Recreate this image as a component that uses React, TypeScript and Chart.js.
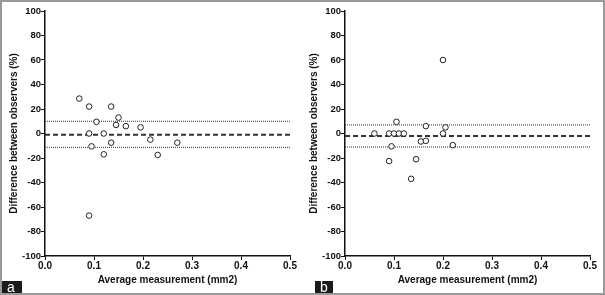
import React, { useEffect, useRef } from "react";
import { Chart, registerables } from "chart.js";
Chart.register(...registerables);

// ---- data ----
const xTickValues = [0, 0.1, 0.2, 0.3, 0.4, 0.5];
const yTickValues = [-100, -80, -60, -40, -20, 0, 20, 40, 60, 80, 100];

const xTitle = "Average measurement (mm2)";
const yTitle = "Difference between observers (%)";

// Panel a
const aAvg = [0.07, 0.09, 0.135, 0.15, 0.105, 0.145, 0.165, 0.195, 0.09, 0.12, 0.215, 0.135, 0.27, 0.095, 0.12, 0.23, 0.09];
const aDiff = [28.5, 22, 22, 13, 9.5, 7, 6, 5, 0, 0, -5, -7.5, -7.5, -10.5, -17, -17.5, -67];
const aBias = -1;
const aUpper = 10;
const aLower = -11.3;

// Panel b
const bAvg = [0.2, 0.105, 0.165, 0.205, 0.06, 0.09, 0.1, 0.11, 0.12, 0.2, 0.155, 0.165, 0.095, 0.22, 0.09, 0.145, 0.135];
const bDiff = [60, 9.5, 6, 5, 0, 0, 0, 0, 0, 0, -6.5, -6, -10.5, -9.5, -22.5, -21, -37];
const bBias = -2;
const bUpper = 7;
const bLower = -11;

const FONT = "'Liberation Sans', Arial, Helvetica, sans-serif";
const INK = "#111";

function hLine(y: number, dash: number[], width: number) {
  return {
    type: "line" as const,
    data: [
      { x: xTickValues[0], y },
      { x: xTickValues[xTickValues.length - 1], y },
    ],
    borderColor: "#333",
    borderWidth: width,
    borderDash: dash,
    pointRadius: 0,
    fill: false,
    order: 2,
  };
}

function makeChart(
  canvas: HTMLCanvasElement,
  xs: number[],
  ys: number[],
  bias: number,
  upper: number,
  lower: number,
  rightPad: number
) {
  const pts = xs.map((x, i) => ({ x, y: ys[i] }));
  return new Chart(canvas, {
    type: "scatter",
    data: {
      datasets: [
        hLine(upper, [1, 1], 1),
        hLine(lower, [1, 1], 1),
        hLine(bias, [5, 3], 2),
        {
          type: "scatter",
          data: pts,
          pointRadius: 2.8,
          pointBorderWidth: 1,
          pointBorderColor: "#222",
          pointBackgroundColor: "#fff",
          borderColor: "#222",
          backgroundColor: "#fff",
          order: 1,
        } as any,
      ],
    },
    options: {
      animation: false,
      responsive: false,
      maintainAspectRatio: false,
      layout: { padding: { top: 11, right: rightPad, bottom: 0, left: 0 } },
      plugins: { legend: { display: false }, tooltip: { enabled: false } },
      scales: {
        x: {
          type: "linear",
          min: xTickValues[0],
          max: xTickValues[xTickValues.length - 1],
          afterFit: (s: any) => {
            s.height = 39;
          },
          afterBuildTicks: (s: any) => {
            s.ticks = xTickValues.map((v) => ({ value: v }));
          },
          ticks: {
            callback: (v: any) => Number(v).toFixed(1),
            font: { family: FONT, size: 10, weight: "bold" },
            color: INK,
            padding: 0,
            maxRotation: 0,
            autoSkip: false,
          },
          grid: {
            display: true,
            drawOnChartArea: false,
            drawTicks: true,
            tickLength: 4,
            color: INK,
            lineWidth: 1,
          },
          border: { display: true, color: INK, width: 1.5 },
          title: {
            display: true,
            text: xTitle,
            font: { family: FONT, size: 10, weight: "bold" },
            color: INK,
            padding: { top: 0, bottom: 8.5 },
          },
        },
        y: {
          type: "linear",
          min: yTickValues[0],
          max: yTickValues[yTickValues.length - 1],
          afterFit: (s: any) => {
            s.width = 45;
          },
          afterBuildTicks: (s: any) => {
            s.ticks = yTickValues.map((v) => ({ value: v }));
          },
          ticks: {
            font: { family: FONT, size: 9.5, weight: "bold" },
            color: INK,
            padding: 0,
            autoSkip: false,
          },
          grid: {
            display: true,
            drawOnChartArea: false,
            drawTicks: true,
            tickLength: 4,
            color: INK,
            lineWidth: 1,
          },
          border: { display: true, color: INK, width: 1.5 },
          title: {
            display: true,
            text: yTitle,
            font: { family: FONT, size: 10, weight: "bold" },
            color: INK,
            padding: { top: 8, bottom: 0 },
          },
        },
      },
    } as any,
  });
}

export default function App() {
  const refA = useRef<HTMLCanvasElement>(null);
  const refB = useRef<HTMLCanvasElement>(null);

  useEffect(() => {
    document.body.style.margin = "0";
    const ca = makeChart(refA.current!, aAvg, aDiff, aBias, aUpper, aLower, 10);
    const cb = makeChart(refB.current!, bAvg, bDiff, bBias, bUpper, bLower, 15);
    return () => {
      ca.destroy();
      cb.destroy();
    };
  }, []);

  const box: React.CSSProperties = {
    position: "absolute",
    top: 281,
    height: 14,
    background: "#1a1a1a",
    color: "#fff",
    fontFamily: FONT,
    fontSize: 14,
    lineHeight: "13px",
    textAlign: "center",
  };

  return (
    <div style={{ position: "fixed", left: 0, top: 0, width: 605, height: 295, background: "#fff", overflow: "hidden" }}>
      <canvas ref={refA} width={300} height={295} style={{ position: "absolute", left: 0, top: 0, width: 300, height: 295 }} />
      <canvas ref={refB} width={305} height={295} style={{ position: "absolute", left: 300, top: 0, width: 305, height: 295 }} />
      <div style={{ ...box, left: 0, width: 22 }}>a</div>
      <div style={{ ...box, left: 315, width: 18 }}>b</div>
      <div
        style={{
          position: "absolute",
          left: 0,
          top: 0,
          width: 605,
          height: 295,
          boxSizing: "border-box",
          border: "2px solid #9a9a9a",
          pointerEvents: "none",
        }}
      />
    </div>
  );
}
